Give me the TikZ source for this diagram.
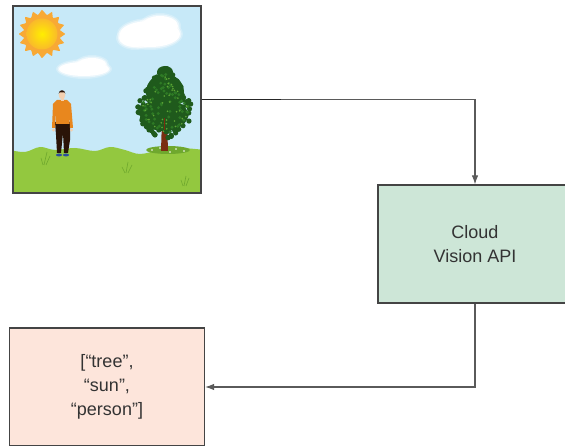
\documentclass[tikz,border=0pt]{standalone}
\usepackage{fontspec}
\setmainfont{Liberation Sans}
\usetikzlibrary{arrows.meta}
\definecolor{sky}{HTML}{C7E9F8}
\definecolor{grass}{HTML}{93C83F}
\definecolor{grassdark}{HTML}{6FA82E}
\definecolor{sunorange}{HTML}{F8A935}
\definecolor{sunyellow}{HTML}{FFEE00}
\definecolor{leaf}{HTML}{1F5A1C}
\definecolor{leafmid}{HTML}{2E7A25}
\definecolor{leaflight}{HTML}{5FA535}
\definecolor{bark}{HTML}{7A2E10}
\definecolor{shirt}{HTML}{E8871E}
\definecolor{pants}{HTML}{2A1408}
\definecolor{skin}{HTML}{F3D0B0}
\definecolor{shoe}{HTML}{2D4F9C}
\definecolor{apifill}{HTML}{CDE6D7}
\definecolor{outfill}{HTML}{FDE5DB}
\definecolor{edge}{HTML}{444444}
\definecolor{wire}{HTML}{5A5A5A}
\definecolor{txt}{HTML}{333333}
\tikzset{
  box/.style={draw=edge, line width=1.2pt, inner sep=0pt, align=center,
    text=txt, font=\fontsize{18}{24}\selectfont},
  conn/.style={draw=wire, line width=1.1pt,
    -{Latex[length=9pt,width=6.5pt]}},
}
\begin{document}
\begin{tikzpicture}[x=1pt,y=-1pt]
\useasboundingbox (0,0) rectangle (565,446);

% ---- scene: sky, sun, clouds, ground, person, tree ----
\begin{scope}
  \clip (13,6) rectangle (201,193);
  \fill[sky] (13,6) rectangle (201,193);
  % sun
  \fill[sunorange] plot[smooth cycle, tension=0.3] coordinates {
    (65,34) (60,38) (64,43) (58,45) (60,51) (53,50) (52,56) (47,53) (42,58)
    (38,53) (33,56) (31,50) (25,51) (26,45) (20,43) (24,38) (19,34) (24,30)
    (20,25) (26,23) (25,17) (31,18) (33,12) (38,15) (42,10) (47,15) (52,12)
    (53,18) (59,17) (58,23) (64,25) (60,30)};
  \shade[inner color=sunyellow, outer color=sunorange!80!yellow] (42,34) circle (15.5);
  % clouds, with a soft rim
  \foreach \o/\g in {0.25/3, 0.5/1.5, 1/0} {
    \fill[white, opacity=\o] (150,34) ellipse ({30+\g} and {13+\g});
    \fill[white, opacity=\o] (160,26) ellipse ({18+\g} and {10+\g});
    \fill[white, opacity=\o] (135,38) ellipse ({16+\g} and {9+\g});
    \fill[white, opacity=\o] (84,69) ellipse ({25+\g} and {7+\g});
    \fill[white, opacity=\o] (92,64) ellipse ({14+\g} and {6+\g});
  }
  % ground
  \fill[grass] plot[smooth, tension=0.6] coordinates {
    (10,150) (25,152) (40,147) (55,150) (75,148) (95,151) (110,147)
    (125,150) (140,154) (160,150) (180,148) (205,150)}
    -- (205,195) -- (10,195) -- cycle;
  % grass tufts
  \begin{scope}[draw=grassdark, line width=0.6pt]
    \draw (44,165) -- (47,152) (46,165) -- (50,156) (43,165) -- (41,158);
    \draw (126,173) -- (128,162) (128,173) -- (132,165) (125,173) -- (122,167);
    \draw (184,186) -- (186,176) (186,186) -- (189,178) (183,186) -- (181,180);
  \end{scope}
  % mound under the tree
  \fill[grassdark] (168,150) ellipse (22 and 4);
  \foreach \p in {(152,150),(160,148),(176,149),(184,151),(170,152)}
    \fill[white] \p circle (0.9);
  % tree trunk
  \fill[bark] (162,118) -- (167,118) -- (168,151) -- (161,151) -- cycle;
  % tree crown: a core plus many small leaf clumps for a ragged outline
  \fill[leaf] (165,72) ellipse (8 and 6);
  \fill[leaf] (165,92) ellipse (19 and 18);
  \fill[leaf] (164,115) ellipse (24 and 16);
  \pgfmathsetseed{5}
  \foreach \i in {1,...,220} {
    \pgfmathsetmacro{\ang}{rnd*360}
    \pgfmathsetmacro{\rad}{sqrt(rnd)}
    \pgfmathsetmacro{\yy}{103+35*\rad*sin(\ang)}
    % crown widens towards its lower half
    \pgfmathsetmacro{\wd}{10+18*min(1,(\yy-66)/40)}
    \pgfmathsetmacro{\xx}{165+\wd*\rad*cos(\ang)}
    \fill[leaf] (\xx,\yy) circle (2.6);
  }
  \foreach \i in {1,...,60} {
    \pgfmathsetmacro{\ang}{rnd*360}
    \pgfmathsetmacro{\rad}{sqrt(rnd)}
    \pgfmathsetmacro{\yy}{103+30*\rad*sin(\ang)}
    \pgfmathsetmacro{\wd}{8+16*min(1,(\yy-70)/38)}
    \pgfmathsetmacro{\xx}{165+\wd*\rad*cos(\ang)}
    \fill[leafmid] (\xx,\yy) circle (1.6);
  }
  \foreach \i in {1,...,45} {
    \pgfmathsetmacro{\ang}{rnd*360}
    \pgfmathsetmacro{\rad}{sqrt(rnd)}
    \pgfmathsetmacro{\yy}{103+30*\rad*sin(\ang)}
    \pgfmathsetmacro{\wd}{8+16*min(1,(\yy-70)/38)}
    \pgfmathsetmacro{\xx}{165+\wd*\rad*cos(\ang)}
    \fill[leaflight] (\xx,\yy) circle (0.9);
  }
  \draw[bark, line width=1pt] (164.5,118) -- (164.5,130);
  % person
  \fill[pants] (55,122) -- (70,122) -- (70,140) -- (68,153) -- (64,153)
    -- (63,133) -- (61,153) -- (57,153) -- (56,135) -- cycle;
  \fill[shoe] (59,155) ellipse (3 and 1.5) (66,155) ellipse (3 and 1.5);
  \fill[shirt] (53,104) -- (57,100) -- (67,100) -- (71,104) -- (73,128)
    -- (70,128) -- (69,112) -- (69,124) -- (56,124) -- (56,112) -- (55,128)
    -- (52,128) -- cycle;
  \fill[skin] (53.5,130) circle (1.6) (71.5,130) circle (1.6);
  \fill[skin] (60.5,98) rectangle (63.5,101);
  \fill[skin] (62,95) ellipse (3.3 and 4.3);
  \fill[pants] (58.6,94) .. controls (58.5,89) and (65.5,89) .. (65.4,94)
    -- (64.6,92.5) -- (59.4,92.5) -- cycle;
\end{scope}

% ---- nodes ----
\node[draw=edge, line width=1.3pt, minimum width=188pt, minimum height=187pt,
  inner sep=0pt] (pic) at (107,99.5) {};
\node[box, fill=apifill, minimum width=194pt, minimum height=118pt]
  (api) at (475,244) {Cloud\\Vision API};
\node[box, fill=outfill, minimum width=195pt, minimum height=118pt]
  (out) at (107,387) {[“tree”,\\“sun”,\\“person”]};

% ---- connectors ----
\draw[conn] (pic.east) -| (api.north);
\draw[black!85, line width=1.3pt] (pic.east) -- ++(79,0);
\draw[conn] (api.south) |- (out.east);
\end{tikzpicture}
\end{document}
